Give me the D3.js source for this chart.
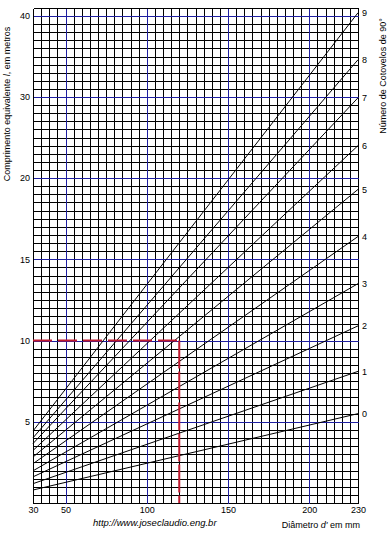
<!DOCTYPE html>
<html>
<head>
<meta charset="utf-8">
<script src="https://cdn.jsdelivr.net/npm/d3@7"></script>
<style>
  html, body { margin: 0; padding: 0; background: #fff; }
  svg { display: block; }
  text { font-family: "Liberation Sans", Arial, sans-serif; }
</style>
</head>
<body>
<svg id="chart" width="389" height="534"></svg>
<script>
// ---- data ----
const elbowLabels   = ["0", "1", "2", "3", "4", "5", "6", "7", "8", "9"];
const lengthAtD30   = [0.80, 1.19, 1.61, 1.98, 2.42, 2.83, 3.23, 3.66, 4.01, 4.43];
const lengthAtD230  = [5.5, 8.1, 10.9, 13.5, 16.4, 19.3, 24.0, 29.9, 34.6, 40.4];
const diameterEnds  = [30, 230];
const xTickLabels   = [30, 50, 100, 150, 200, 230];
const yTickLabels   = [5, 10, 15, 20, 30, 40];
const xMajorGrid    = [50, 100, 150, 200];
const yMajorGrid    = [5, 10, 15, 20, 30, 40];
const exampleDiameter = 120;
const exampleLength   = 10;

// ---- scales ----
const svg = d3.select("#chart");
const x = d3.scaleLinear().domain([30, 230]).range([33, 358]);
const y = d3.scaleLinear().domain([0, 20, 40]).range([503, 178, 16]);
const yTop = 41;

const snap = v => Math.round(v) + 0.5;

// ---- grid ----
const xMinor = d3.range(30, 231, 5);
const yMinor = d3.range(0, 20, 0.5).concat(d3.range(20, yTop + 1, 1));

const grid = svg.append("g").attr("shape-rendering", "crispEdges");
grid.selectAll("line.vx").data(xMinor).join("line")
  .attr("x1", d => snap(x(d))).attr("x2", d => snap(x(d)))
  .attr("y1", snap(y(yTop))).attr("y2", snap(y(0)))
  .attr("stroke", "#000").attr("stroke-width", 1);
grid.selectAll("line.hy").data(yMinor).join("line")
  .attr("y1", d => snap(y(d))).attr("y2", d => snap(y(d)))
  .attr("x1", snap(x(30))).attr("x2", snap(x(230)))
  .attr("stroke", "#000").attr("stroke-width", 1);

const major = svg.append("g").attr("shape-rendering", "crispEdges");
major.selectAll("line.mx").data(xMajorGrid).join("line")
  .attr("x1", d => snap(x(d))).attr("x2", d => snap(x(d)))
  .attr("y1", snap(y(yTop))).attr("y2", snap(y(0)))
  .attr("stroke", "#1e1ea0").attr("stroke-width", 1);
major.selectAll("line.my").data(yMajorGrid).join("line")
  .attr("y1", d => snap(y(d))).attr("y2", d => snap(y(d)))
  .attr("x1", snap(x(30))).attr("x2", snap(x(230)))
  .attr("stroke", "#1e1ea0").attr("stroke-width", 1);

// ---- series lines ----
const series = elbowLabels.map((lab, i) => ({
  label: lab,
  pts: [[diameterEnds[0], lengthAtD30[i]], [diameterEnds[1], lengthAtD230[i]]]
}));
const line = d3.line().x(d => x(d[0])).y(d => y(d[1]));
svg.append("g").selectAll("path").data(series).join("path")
  .attr("d", d => line(d.pts))
  .attr("fill", "none").attr("stroke", "#000").attr("stroke-width", 1);

// ---- red example ----
const red = "#c0182e";
svg.append("line")
  .attr("x1", x(30)).attr("x2", x(exampleDiameter))
  .attr("y1", y(exampleLength)).attr("y2", y(exampleLength))
  .attr("stroke", red).attr("stroke-width", 2).attr("stroke-dasharray", "19,6");
svg.append("line")
  .attr("x1", x(exampleDiameter)).attr("x2", x(exampleDiameter))
  .attr("y1", y(exampleLength)).attr("y2", y(0))
  .attr("stroke", red).attr("stroke-width", 2).attr("stroke-dasharray", "28,3");

// ---- axes ----
const fontSize = 9;
const leftAxis = svg.append("g").attr("transform", "translate(33,0)")
  .call(d3.axisLeft(y).tickValues(yTickLabels).tickSize(0).tickPadding(3));
const bottomAxis = svg.append("g").attr("transform", "translate(0,503)")
  .call(d3.axisBottom(x).tickValues(xTickLabels).tickSize(0).tickPadding(4));
const rightAxis = svg.append("g").attr("transform", "translate(358,0)")
  .call(d3.axisRight(y).tickValues(lengthAtD230).tickSize(0).tickPadding(4)
    .tickFormat((d, i) => elbowLabels[i]));
[leftAxis, bottomAxis, rightAxis].forEach(a => {
  a.select(".domain").remove();
  a.selectAll("text").attr("font-size", fontSize)
    .attr("font-family", "'Liberation Sans', Arial, sans-serif").attr("fill", "#000");
});

// ---- titles ----
const lt = svg.append("text")
  .attr("transform", "translate(9.5,104) rotate(-90)")
  .attr("text-anchor", "middle").attr("font-size", fontSize).attr("fill", "#000");
lt.append("tspan").text("Comprimento equivalente ");
lt.append("tspan").attr("font-style", "italic").text("l");
lt.append("tspan").text(", em metros");

svg.append("text")
  .attr("transform", "translate(385.5,76) rotate(-90)")
  .attr("text-anchor", "middle").attr("font-size", fontSize).attr("fill", "#000")
  .text("Número de Cotovelos de 90°");

const bt = svg.append("text")
  .attr("x", 360).attr("y", 528)
  .attr("text-anchor", "end").attr("font-size", fontSize).attr("fill", "#000");
bt.append("tspan").text("Diâmetro ");
bt.append("tspan").attr("font-style", "italic").text("d'");
bt.append("tspan").text(" em mm");

svg.append("text")
  .attr("x", 93).attr("y", 526)
  .attr("font-family", "'Liberation Serif', 'Times New Roman', serif")
  .attr("font-style", "italic").attr("font-size", 9.5).attr("fill", "#000")
  .text("http://www.joseclaudio.eng.br");
</script>
</body>
</html>
